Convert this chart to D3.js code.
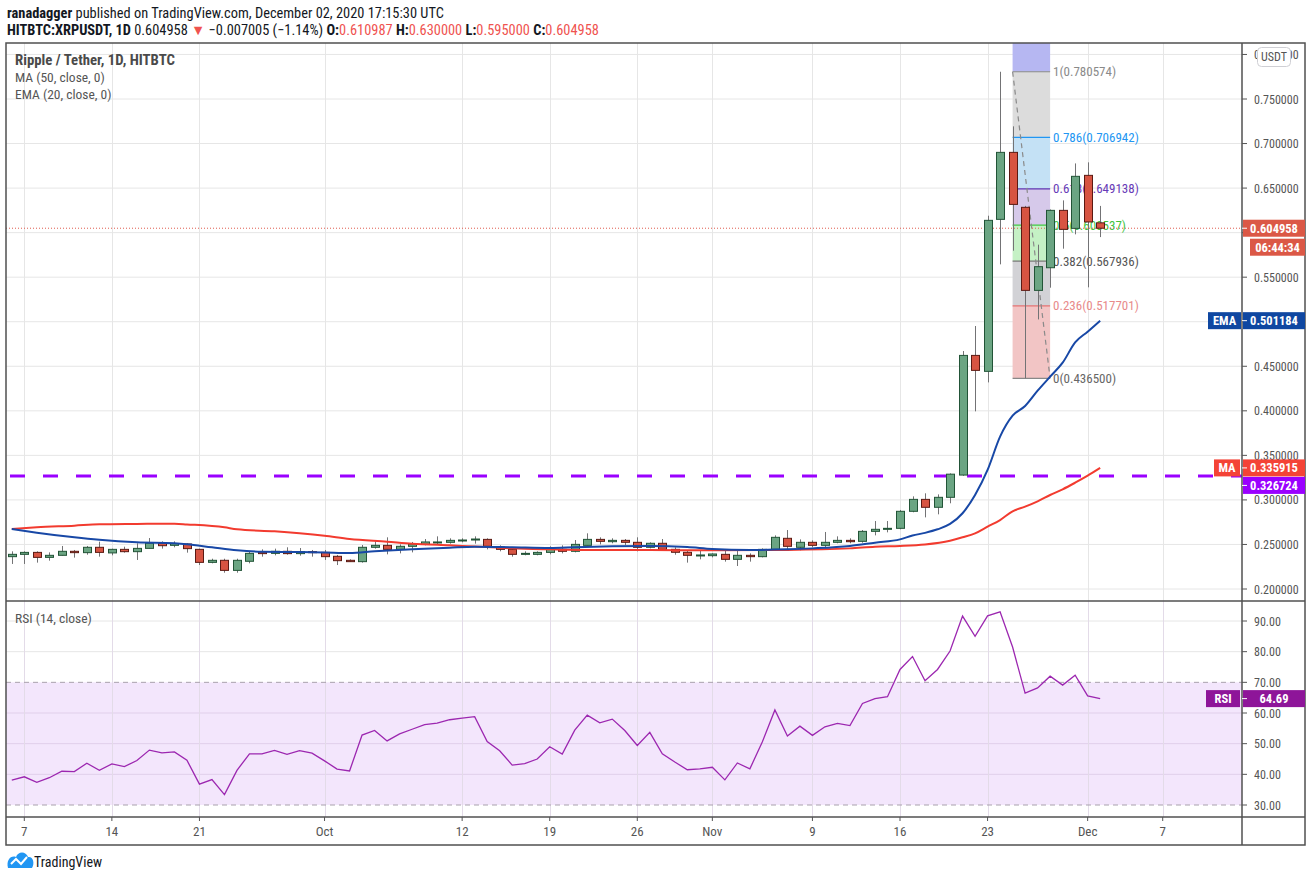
<!DOCTYPE html>
<html><head><meta charset="utf-8">
<script src="https://cdn.jsdelivr.net/npm/d3@7/dist/d3.min.js"></script>
<style>
html,body{margin:0;padding:0;background:#fff;}
svg{display:block;}
text{font-family:"Liberation Sans Narrow","Roboto Condensed","Lato",sans-serif;}
</style></head><body>
<svg id="c" width="1311" height="881"></svg>
<script>
// ---------- DATA ----------
const firstDay = "2020-09-06";
const lastDay = "2020-12-02";
const opens = [
.2363,.2389,.2411,.2355,.2378,.2423,.2408,.2468,.2405,.2445,
.2419,.2456,.2513,.2490,.2505,.2445,.2299,.2322,.2209,.2311,
.2415,.2400,.2423,.2397,.2419,
.2411,.2367,.2322,.2307,.2468,.2490,.2445,.2479,.2501,.2522,
.2524,.2543,.2554,.2557,.2471,.2445,.2389,.2389,.2411,.2445,
.2423,.2490,.2557,.2531,.2546,.2524,.2468,.2513,.2445,.2412,.2374,
.2374,.2389,.2333,.2378,.2363,.2445,.2569,.2468,.2524,.2490,
.2524,.2546,.2535,.2647,.2670,.2681,.2872,.3006,.2917,.3029,
.3279,.4622,.4443,.6149,.6901,.6284,.5352,.5606,.6250,.6048,
.6643,.610987];
const highs = [
.2423,.2423,.2423,.2411,.2483,.2438,.2483,.2531,.2453,.2475,
.2513,.2572,.2535,.2535,.2513,.2453,.2340,.2340,.2340,.2423,
.2445,.2453,.2468,.2460,.2438,
.2438,.2382,.2333,.2494,.2535,.2580,.2501,.2528,.2561,.2591,
.2569,.2569,.2591,.2569,.2490,.2456,.2423,.2423,.2479,.2490,
.2550,.2625,.2580,.2569,.2561,.2580,.2524,.2561,.2468,.2427,.2427,
.2400,.2427,.2438,.2400,.2456,.2602,.2662,.2557,.2546,.2640,
.2591,.2569,.2662,.2763,.2763,.2887,.3040,.3074,.3062,.3298,
.4671,.4952,.6190,.780574,.7193,.6300,.5865,.6260,.6362,.6777,
.6789,.630000];
const lows = [
.2281,.2281,.2296,.2318,.2375,.2352,.2385,.2363,.2378,.2408,
.2326,.2453,.2453,.2468,.2408,.2269,.2288,.2183,.2183,.2288,
.2363,.2378,.2385,.2374,.2363,
.2326,.2269,.2303,.2296,.2453,.2389,.2400,.2411,.2490,.2505,
.2509,.2524,.2509,.2445,.2423,.2363,.2378,.2378,.2389,.2400,
.2411,.2490,.2501,.2513,.2494,.2423,.2456,.2430,.2385,.2296,.2333,
.2355,.2307,.2258,.2307,.2355,.2438,.2434,.2434,.2468,.2456,
.2513,.2513,.2520,.2602,.2636,.2670,.2861,.2804,.2838,.2962,
.3270,.3994,.4319,.5644,.5797,.4365,.5026,.5382,.5820,.5981,
.5386,.595000];
const closes = [
.2389,.2411,.2355,.2378,.2423,.2408,.2468,.2411,.2445,.2419,
.2456,.2513,.2486,.2509,.2453,.2299,.2322,.2209,.2322,.2400,
.2397,.2423,.2397,.2419,.2408,
.2363,.2318,.2307,.2468,.2490,.2445,.2479,.2505,.2528,.2528,
.2546,.2550,.2561,.2479,.2445,.2389,.2400,.2411,.2445,.2423,
.2501,.2557,.2535,.2546,.2524,.2468,.2513,.2445,.2412,.2378,.2382,
.2393,.2333,.2378,.2363,.2445,.2580,.2479,.2524,.2490,.2524,
.2546,.2531,.2647,.2670,.2681,.2872,.3006,.2917,.3029,.3289,
.4622,.4454,.6138,.6901,.6317,.5352,.5618,.6250,.6037,.6632,
.6120,.604958];
const rsiValues = [
38.1,39.2,37.4,38.9,41.0,40.9,43.6,41.3,43.4,42.5,44.5,47.9,47.0,47.3,44.6,36.8,38.3,33.4,41.3,46.7,46.7,47.8,46.5,47.7,46.9,
44.4,41.7,41.1,52.8,54.3,50.9,53.2,54.7,56.2,56.7,57.8,58.3,58.8,50.7,47.7,43.0,43.5,45.0,49.0,46.6,54.4,59.3,56.8,58.0,54.3,49.4,53.7,46.7,44.0,41.5,41.8,
42.3,38.2,43.7,41.8,50.6,61.0,52.5,55.7,52.7,55.5,56.6,55.9,63.1,64.7,65.3,74.2,78.4,70.5,74.2,80.2,91.6,85.0,91.7,93.0,81.5,66.5,68.2,72.0,69.1,72.3,
65.6,64.69];
const emaDates = ["2020-09-06","2020-09-08","2020-09-11","2020-09-13","2020-09-16","2020-09-19","2020-09-20","2020-09-22","2020-09-24","2020-09-26","2020-09-29","2020-10-01","2020-10-03","2020-10-05","2020-10-08","2020-10-11","2020-10-13","2020-10-16","2020-10-19","2020-10-21","2020-10-24","2020-10-27","2020-10-30","2020-11-01","2020-11-04","2020-11-07","2020-11-09","2020-11-12","2020-11-14","2020-11-16","2020-11-17","2020-11-18","2020-11-19","2020-11-20","2020-11-21","2020-11-22","2020-11-23","2020-11-24","2020-11-25","2020-11-26","2020-11-27","2020-11-28","2020-11-29","2020-11-30","2020-12-01","2020-12-02"];
const emaValues = [0.2673,0.2632,0.2580,0.2552,0.2524,0.2513,0.2503,0.2468,0.2434,0.2419,0.2415,0.2410,0.2404,0.2423,0.2445,0.2464,0.2475,0.2468,0.2460,0.2468,0.2479,0.2483,0.2471,0.2449,0.2438,0.2445,0.2456,0.2483,0.2520,0.2557,0.2600,0.2630,0.2670,0.2730,0.2850,0.3055,0.3336,0.3710,0.3945,0.4054,0.4226,0.4383,0.4540,0.4768,0.4888,0.501184];
const maDates = ["2020-09-06","2020-09-08","2020-09-11","2020-09-13","2020-09-16","2020-09-19","2020-09-20","2020-09-23","2020-09-24","2020-09-27","2020-09-29","2020-10-01","2020-10-03","2020-10-06","2020-10-08","2020-10-11","2020-10-14","2020-10-16","2020-10-19","2020-10-22","2020-10-27","2020-11-01","2020-11-07","2020-11-12","2020-11-14","2020-11-16","2020-11-18","2020-11-20","2020-11-21","2020-11-22","2020-11-23","2020-11-24","2020-11-25","2020-11-26","2020-11-27","2020-11-28","2020-11-29","2020-11-30","2020-12-01","2020-12-02"];
const maValues = [0.2673,0.2692,0.2711,0.2726,0.2730,0.2733,0.2725,0.2692,0.2670,0.2647,0.2625,0.2597,0.2561,0.2531,0.2509,0.2490,0.2471,0.2456,0.2445,0.2438,0.2438,0.2434,0.2438,0.2456,0.2475,0.2483,0.2500,0.2542,0.2580,0.2625,0.2700,0.2774,0.2872,0.2924,0.2984,0.3055,0.3119,0.3193,0.3272,0.335915];
const fibLevels = ["1","0.786","0.618","0.5","0.382","0.236","0"];
const fibPrices = [0.780574,0.706942,0.649138,0.608537,0.567936,0.517701,0.436500];
const fibStart = "2020-11-25", fibEnd = "2020-11-28";
const supportLevel = 0.326724;
const lastPrice = 0.604958, emaLast = 0.501184, maLast = 0.335915, rsiLast = 64.69;
const priceTicks = [0.2,0.25,0.3,0.35,0.4,0.45,0.5,0.55,0.6,0.65,0.7,0.75,0.8];
const hiddenPriceLabels = [0.5,0.6];
const rsiTicks = [30,40,50,60,70,80,90];
const timeTickDates = ["2020-09-07","2020-09-14","2020-09-21","2020-10-01","2020-10-12","2020-10-19","2020-10-26","2020-11-01","2020-11-09","2020-11-16","2020-11-23","2020-12-01","2020-12-07"];
const timeTickLabels = ["7","14","21","Oct","12","19","26","Nov","9","16","23","Dec","7"];

// ---------- LAYOUT ----------
const L = 6, AX = 1242, R = 1305;
const mainTop = 43, mainBot = 601, rsiTop = 601, rsiBot = 817, bottom = 845;
const svg = d3.select("#c");
const pd = s => new Date(s + "T00:00:00Z");
const days = d3.utcDay.range(pd(firstDay), d3.utcDay.offset(pd(lastDay), 1));
const x = d3.scaleUtc().domain([pd("2020-09-07"), pd("2020-12-07")]).range([24.3, 24.3 + 91 * 12.51]);
const y = d3.scaleLinear().domain([0.2, 0.75]).range([589, 99]);
const yr = d3.scaleLinear().domain([30, 90]).range([805, 621]);

const defs = svg.append("defs");
defs.append("clipPath").attr("id","cm").append("rect").attr("x",L).attr("y",mainTop).attr("width",AX-L).attr("height",mainBot-mainTop);
defs.append("clipPath").attr("id","cr").append("rect").attr("x",L).attr("y",rsiTop).attr("width",AX-L).attr("height",rsiBot-rsiTop);

// header
const h1 = svg.append("text").attr("x",7).attr("y",18).attr("font-size",14.4).attr("fill","#131722");
h1.append("tspan").attr("font-weight","bold").text("ranadagger");
h1.append("tspan").text(" published on TradingView.com, December 02, 2020 17:15:30 UTC");
const h2 = svg.append("text").attr("x",7).attr("y",35).attr("font-size",14.4).attr("fill","#131722");
[["HITBTC:XRPUSDT, 1D","#131722",true],[" 0.604958 ","#131722",false],["▼","#ef5350",false],[" −0.007005 (−1.14%) ","#131722",false],
 ["O:","#131722",true],["0.610987","#ef5350",false],[" H:","#131722",true],["0.630000","#ef5350",false],
 [" L:","#131722",true],["0.595000","#ef5350",false],[" C:","#131722",true],["0.604958","#ef5350",false]].forEach(([t,c,b])=>{
  h2.append("tspan").attr("fill",c).attr("font-weight",b?"bold":"normal").text(t);
});

// grids
const gMain = svg.append("g").attr("clip-path","url(#cm)");
const gRsi = svg.append("g").attr("clip-path","url(#cr)");
const grid = "#e6e6e6";
priceTicks.forEach(v=>gMain.append("line").attr("x1",L).attr("x2",AX).attr("y1",y(v)).attr("y2",y(v)).attr("stroke",grid));
timeTickDates.forEach(d=>{
  const xx = Math.round(x(pd(d)))+0.5;
  gMain.append("line").attr("x1",xx).attr("x2",xx).attr("y1",mainTop).attr("y2",mainBot).attr("stroke",grid);
});

// RSI band & grid
gRsi.append("rect").attr("x",L).attr("width",AX-L).attr("y",yr(70)).attr("height",yr(30)-yr(70)).attr("fill","#f3e6fc");
rsiTicks.filter(v=>v!==30&&v!==70).forEach(v=>gRsi.append("line").attr("x1",L).attr("x2",AX).attr("y1",yr(v)).attr("y2",yr(v)).attr("stroke", (v>30&&v<70)?"#e0cfea":grid));
timeTickDates.forEach(d=>{
  const xx = Math.round(x(pd(d)))+0.5;
  gRsi.append("line").attr("x1",xx).attr("x2",xx).attr("y1",rsiTop).attr("y2",rsiBot).attr("stroke","#e3dbe8");
});
[70,30].forEach(v=>gRsi.append("line").attr("x1",L).attr("x2",AX).attr("y1",yr(v)).attr("y2",yr(v)).attr("stroke","#a9a2ad").attr("stroke-dasharray","5,4"));

// Fibonacci
const fx1 = x(pd(fibStart)), fx2 = x(pd(fibEnd));
const fibLine = ["#888888","#2196f3","#5e35b1","#43c943","#777777","#e57373","#888888"];
const fibFill = ["#dcdcdc","#c4e1f5","#d6c9ea","#c5f1c5","#d2d2d6","#f2c5c5"];
gMain.append("rect").attr("x",fx1).attr("width",fx2-fx1).attr("y",mainTop).attr("height",y(fibPrices[0])-mainTop).attr("fill","#b6b7f2");
for(let i=0;i<fibPrices.length-1;i++){
  gMain.append("rect").attr("x",fx1).attr("width",fx2-fx1).attr("y",y(fibPrices[i])).attr("height",y(fibPrices[i+1])-y(fibPrices[i])).attr("fill",fibFill[i]);
}
fibPrices.forEach((p,i)=>{
  gMain.append("line").attr("x1",fx1).attr("x2",fx2).attr("y1",y(p)).attr("y2",y(p)).attr("stroke",fibLine[i]).attr("stroke-width",1.2);
});
const fibText = ["#8a8a8a","#2196f3","#673ab7","#3fc43f","#555555","#e88a8a","#666666"];
fibPrices.forEach((p,i)=>{
  gMain.append("text").attr("x",fx2+3).attr("y",y(p)+4.5).attr("font-size",13).attr("fill",fibText[i])
    .text(fibLevels[i]+"("+p.toFixed(6)+")");
});
gMain.append("line").attr("x1",fx1).attr("y1",y(fibPrices[0])).attr("x2",fx2).attr("y2",y(fibPrices[6]))
  .attr("stroke","#8a8a8a").attr("stroke-width",1.2).attr("stroke-dasharray","5,4");

// support dashed line
gMain.append("line").attr("x1",10).attr("x2",AX).attr("y1",y(supportLevel)).attr("y2",y(supportLevel))
  .attr("stroke","#9a00ff").attr("stroke-width",3).attr("stroke-dasharray","15,18");

// last price dotted
gMain.append("line").attr("x1",L).attr("x2",AX).attr("y1",y(lastPrice)).attr("y2",y(lastPrice))
  .attr("stroke","#e05a4e").attr("stroke-width",1).attr("stroke-dasharray","1,2");

// candles
const bw = 8;
const cg = gMain.append("g");
days.forEach((d,i)=>{
  const up = closes[i] >= opens[i];
  const cx = Math.round(x(d))+0.5;
  cg.append("line").attr("x1",cx).attr("x2",cx).attr("y1",y(highs[i])).attr("y2",y(lows[i])).attr("stroke","#737375").attr("stroke-width",1);
  const top = y(Math.max(opens[i],closes[i])), bot = y(Math.min(opens[i],closes[i]));
  cg.append("rect").attr("x",cx-bw/2).attr("width",bw).attr("y",top).attr("height",Math.max(bot-top,1))
    .attr("fill", up?"#6ba583":"#d75442").attr("stroke", up?"#225437":"#5b1a13").attr("stroke-width",1);
});

// MA / EMA
const ln = d3.line().x(d=>x(pd(d[0]))).y(d=>y(d[1])).curve(d3.curveMonotoneX);
gMain.append("path").attr("d",ln(d3.zip(maDates,maValues))).attr("fill","none").attr("stroke","#f23b2f").attr("stroke-width",2);
gMain.append("path").attr("d",ln(d3.zip(emaDates,emaValues))).attr("fill","none").attr("stroke","#1848a6").attr("stroke-width",2);

// RSI line
const rl = d3.line().x((d,i)=>x(days[i])).y(d=>yr(d));
gRsi.append("path").attr("d",rl(rsiValues)).attr("fill","none").attr("stroke","#9c27b0").attr("stroke-width",1.3);

// legends
const lg = svg.append("g").attr("font-size",13.5).attr("fill","#555");
lg.append("text").attr("x",15).attr("y",65).attr("font-size",14.8).attr("font-weight","bold").attr("fill","#4a4a4a").text("Ripple / Tether, 1D, HITBTC");
lg.append("text").attr("x",15).attr("y",82).text("MA (50, close, 0)");
lg.append("text").attr("x",15).attr("y",99).text("EMA (20, close, 0)");
lg.append("text").attr("x",15).attr("y",623).text("RSI (14, close)");

// frame
const fr = svg.append("g").attr("stroke","#505050").attr("stroke-width",1.5).attr("fill","none");
fr.append("rect").attr("x",L).attr("y",mainTop).attr("width",R-L).attr("height",bottom-mainTop);
fr.append("line").attr("x1",L).attr("x2",R).attr("y1",mainBot).attr("y2",mainBot);
fr.append("line").attr("x1",L).attr("x2",R).attr("y1",rsiBot).attr("y2",rsiBot);
fr.append("line").attr("x1",AX).attr("x2",AX).attr("y1",mainTop).attr("y2",bottom);

// price axis
const ax = svg.append("g").attr("font-size",12).attr("fill","#555");
priceTicks.forEach(v=>{
  ax.append("line").attr("x1",AX).attr("x2",AX+5).attr("y1",y(v)).attr("y2",y(v)).attr("stroke","#555");
  if (!hiddenPriceLabels.includes(v)) ax.append("text").attr("x",AX+12).attr("y",y(v)+4.5).text(v.toFixed(6));
});
rsiTicks.forEach(v=>{
  ax.append("line").attr("x1",AX).attr("x2",AX+5).attr("y1",yr(v)).attr("y2",yr(v)).attr("stroke","#555");
  ax.append("text").attr("x",AX+12).attr("y",yr(v)+4.5).text(v.toFixed(2));
});
// time axis
timeTickDates.forEach((d,i)=>{
  const xx = x(pd(d));
  svg.append("line").attr("x1",xx).attr("x2",xx).attr("y1",rsiBot).attr("y2",rsiBot+4).attr("stroke","#555");
  svg.append("text").attr("x",xx).attr("y",836).attr("text-anchor","middle").attr("font-size",13).attr("fill","#555").text(timeTickLabels[i]);
});

// USDT badge
svg.append("rect").attr("x",1257.5).attr("y",47.5).attr("width",33).attr("height",19).attr("rx",4).attr("fill","#fff").attr("stroke","#cfcfd4");
svg.append("text").attr("x",1274).attr("y",61).attr("text-anchor","middle").attr("font-size",12).attr("fill","#555").text("USDT");

// axis labels
function tag(yc, txt, color, x0, x1){
  svg.append("rect").attr("x",x0).attr("y",yc-8.5).attr("width",x1-x0).attr("height",17).attr("fill",color);
  svg.append("text").attr("x",(x0+x1)/2).attr("y",yc+4.5).attr("text-anchor","middle").attr("font-size",12.5).attr("font-weight","bold").attr("fill","#fff").text(txt);
}
function tick(yc){ svg.append("line").attr("x1",AX).attr("x2",AX+5).attr("y1",yc).attr("y2",yc).attr("stroke","#fff"); }
tag(y(lastPrice), lastPrice.toFixed(6), "#db5846", AX+1, R);
tag(y(lastPrice)+19, "06:44:34", "#db5846", 1250, R);
tick(y(lastPrice));
tag(y(emaLast), emaLast.toFixed(6), "#0f47a1", AX+1, R);
tag(y(emaLast), "EMA", "#0f47a1", 1208, 1241);
tick(y(emaLast));
const maY = y(maLast);
tag(maY, maLast.toFixed(6), "#f44336", AX+1, R);
tag(maY, "MA", "#f44336", 1214, 1240);
tick(maY);
tag(maY+17.5, supportLevel.toFixed(6), "#9a00ff", AX+1, R);
tick(maY+17.5);
tag(yr(rsiLast), rsiLast.toFixed(2), "#8e1599", AX+1, R);
tag(yr(rsiLast), "RSI", "#8e1599", 1206, 1240);
tick(yr(rsiLast));

// TradingView logo
const lgo = svg.append("g");
lgo.append("path").attr("d","M8,868 C6,860 11,855 16,857 C18,851 26,851 28,857 C33,856 35,863 32,868 Z").attr("fill","#2196f3");
lgo.append("path").attr("d","M11,864 L16,859 L21,864 L27,857").attr("fill","none").attr("stroke","#fff").attr("stroke-width",2);
svg.append("text").attr("x",34).attr("y",867).attr("font-size",14).attr("fill","#131722").text("TradingView");
</script>
</body></html>
